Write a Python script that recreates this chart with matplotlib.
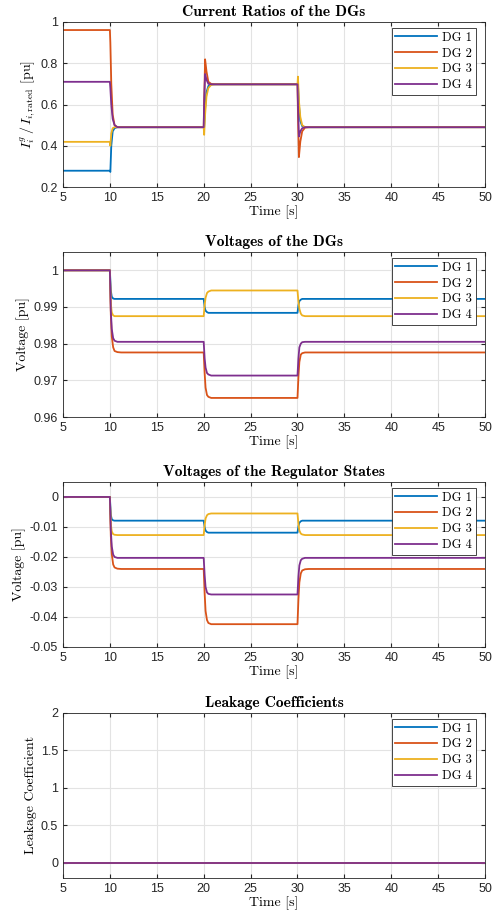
import matplotlib
matplotlib.use("Agg")
import matplotlib.pyplot as plt

# ── Data ──────────────────────────────────────────────────────────────────────
labels = ["DG 1", "DG 2", "DG 3", "DG 4"]
colors = ["#0072BD", "#D95319", "#EDB120", "#7E2F8E"]

# current ratios
t_cur = [5, 10, 10.05, 10.15, 10.3, 10.5, 10.8, 11.2,
         20, 20.05, 20.15, 20.3, 20.5, 20.8, 21.2,
         30, 30.05, 30.15, 30.3, 30.5, 30.8, 31.2, 50]
cur_dg1 = [0.279, 0.279, 0.273, 0.40, 0.47, 0.485, 0.49, 0.49,
           0.49, 0.49, 0.58, 0.66, 0.69, 0.697, 0.698,
           0.698, 0.698, 0.60, 0.52, 0.495, 0.49, 0.49, 0.49]
cur_dg2 = [0.961, 0.961, 0.90, 0.70, 0.55, 0.50, 0.49, 0.49,
           0.49, 0.60, 0.819, 0.76, 0.71, 0.70, 0.698,
           0.698, 0.55, 0.345, 0.42, 0.47, 0.488, 0.49, 0.49]
cur_dg3 = [0.419, 0.419, 0.40, 0.46, 0.485, 0.49, 0.49, 0.49,
           0.49, 0.453, 0.55, 0.64, 0.68, 0.695, 0.698,
           0.698, 0.735, 0.62, 0.54, 0.50, 0.49, 0.49, 0.49]
cur_dg4 = [0.71, 0.71, 0.68, 0.60, 0.53, 0.50, 0.49, 0.49,
           0.49, 0.62, 0.748, 0.72, 0.70, 0.698, 0.698,
           0.698, 0.60, 0.445, 0.47, 0.485, 0.49, 0.49, 0.49]

# voltages (DGs and regulator states share one time grid)
t_v = [5, 10, 10.1, 10.2, 10.35, 10.5, 10.8, 11.2,
       20, 20.1, 20.2, 20.35, 20.5, 20.8, 21.2,
       30, 30.1, 30.2, 30.35, 30.5, 30.8, 31.2, 50]
v_dg1 = [1, 1, 0.9945, 0.9928, 0.9923, 0.9922, 0.9922, 0.9922,
         0.9922, 0.9900, 0.9890, 0.9886, 0.9884, 0.9884, 0.9884,
         0.9884, 0.9905, 0.9916, 0.9920, 0.9922, 0.9922, 0.9922, 0.9922]
v_dg2 = [1, 1, 0.988, 0.982, 0.979, 0.978, 0.9777, 0.9776,
         0.9776, 0.972, 0.968, 0.966, 0.9655, 0.9652, 0.9652,
         0.9652, 0.971, 0.975, 0.977, 0.9774, 0.9776, 0.9776, 0.9776]
v_dg3 = [1, 1, 0.991, 0.9885, 0.9877, 0.9875, 0.9875, 0.9875,
         0.9875, 0.9905, 0.9925, 0.9938, 0.9942, 0.9945, 0.9945,
         0.9945, 0.9915, 0.9895, 0.9882, 0.9877, 0.9875, 0.9875, 0.9875]
v_dg4 = [1, 1, 0.989, 0.984, 0.9815, 0.9808, 0.9805, 0.9805,
         0.9805, 0.976, 0.9735, 0.972, 0.9716, 0.9713, 0.9713,
         0.9713, 0.976, 0.979, 0.9800, 0.9804, 0.9805, 0.9805, 0.9805]

r_dg1 = [0, 0, -0.0060, -0.0074, -0.0078, -0.0079, -0.0079, -0.0079,
         -0.0079, -0.0100, -0.0112, -0.0117, -0.0119, -0.0119, -0.0119,
         -0.0119, -0.0098, -0.0086, -0.0081, -0.0079, -0.0079, -0.0079, -0.0079]
r_dg2 = [0, 0, -0.0130, -0.0190, -0.0225, -0.0235, -0.0239, -0.0240,
         -0.0240, -0.0320, -0.0380, -0.0410, -0.0420, -0.0424, -0.0424,
         -0.0424, -0.0340, -0.0285, -0.0255, -0.0245, -0.0241, -0.0240, -0.0240]
r_dg3 = [0, 0, -0.0090, -0.0115, -0.0124, -0.0126, -0.0127, -0.0127,
         -0.0127, -0.0095, -0.0072, -0.0061, -0.0057, -0.0055, -0.0055,
         -0.0055, -0.0090, -0.0112, -0.0122, -0.0125, -0.0127, -0.0127, -0.0127]
r_dg4 = [0, 0, -0.0110, -0.0165, -0.0192, -0.0200, -0.0203, -0.0203,
         -0.0203, -0.0260, -0.0300, -0.0318, -0.0323, -0.0325, -0.0325,
         -0.0325, -0.0265, -0.0228, -0.0211, -0.0206, -0.0203, -0.0203, -0.0203]

# leakage coefficients
t_leak = [5, 50]
leak_dg1 = [0, 0]
leak_dg2 = [0, 0]
leak_dg3 = [0, 0]
leak_dg4 = [0, 0]

# ── Style ─────────────────────────────────────────────────────────────────────
plt.rcParams["font.family"] = ["Liberation Sans", "DejaVu Sans"]
plt.rcParams["mathtext.fontset"] = "cm"
SERIF = ["cmr10", "DejaVu Serif"]
SERIF_BOLD = ["cmb10", "DejaVu Serif"]

fig = plt.figure(figsize=(4.92, 9.24), dpi=100)

panels = [
    dict(bottom=0.7976, t=t_cur, ys=[cur_dg1, cur_dg2, cur_dg3, cur_dg4],
         title="Current Ratios of the DGs",
         ylabel=r"$I_i^g\,/\,I_{i,\mathrm{rated}}$ [pu]",
         ylim=(0.2, 1.0), yticks=[0.2, 0.4, 0.6, 0.8, 1.0],
         yticklabels=["0.2", "0.4", "0.6", "0.8", "1"]),
    dict(bottom=0.5487, t=t_v, ys=[v_dg1, v_dg2, v_dg3, v_dg4],
         title="Voltages of the DGs", ylabel="Voltage [pu]",
         ylim=(0.96, 1.005), yticks=[0.96, 0.97, 0.98, 0.99, 1.0],
         yticklabels=["0.96", "0.97", "0.98", "0.99", "1"]),
    dict(bottom=0.2998, t=t_v, ys=[r_dg1, r_dg2, r_dg3, r_dg4],
         title="Voltages of the Regulator States", ylabel="Voltage [pu]",
         ylim=(-0.05, 0.005), yticks=[-0.05, -0.04, -0.03, -0.02, -0.01, 0],
         yticklabels=["-0.05", "-0.04", "-0.03", "-0.02", "-0.01", "0"]),
    dict(bottom=0.0498, t=t_leak, ys=[leak_dg1, leak_dg2, leak_dg3, leak_dg4],
         title="Leakage Coefficients", ylabel="Leakage Coefficient",
         ylim=(-0.2, 2.0), yticks=[0, 0.5, 1, 1.5, 2],
         yticklabels=["0", "0.5", "1", "1.5", "2"]),
]

xticks = list(range(5, 51, 5))

for p in panels:
    ax = fig.add_axes([0.128, p["bottom"], 0.858, 0.1786])
    for y, lab, c in zip(p["ys"], labels, colors):
        ax.plot(p["t"], y, color=c, lw=1.3, label=lab)
    ax.set_xlim(5, 50)
    ax.set_ylim(*p["ylim"])
    ax.set_xticks(xticks)
    ax.set_yticks(p["yticks"])
    ax.set_yticklabels(p["yticklabels"])
    ax.grid(True, color="#e3e3e3", lw=0.8)
    ax.set_axisbelow(True)
    ax.tick_params(direction="in", top=True, right=True, length=3,
                   labelsize=9, colors="#262626", labelcolor="#262626")
    for s in ax.spines.values():
        s.set_color("#262626")
        s.set_linewidth(0.6)
    ax.set_title(p["title"], family=SERIF_BOLD, fontsize=11.2, pad=4)
    ax.set_xlabel("Time [s]", family=SERIF, fontsize=10, labelpad=1)
    ax.set_ylabel(p["ylabel"], family=SERIF, fontsize=10, labelpad=3)
    leg = ax.legend(loc="upper right", bbox_to_anchor=(0.978, 0.965),
                    borderaxespad=0, fancybox=False, framealpha=1,
                    edgecolor="#262626", handlelength=3.3, handletextpad=0.45,
                    labelspacing=0.3, borderpad=0.3,
                    prop=dict(family=SERIF, size=9))
    leg.get_frame().set_linewidth(0.6)

fig.savefig("out.png", dpi=100)
